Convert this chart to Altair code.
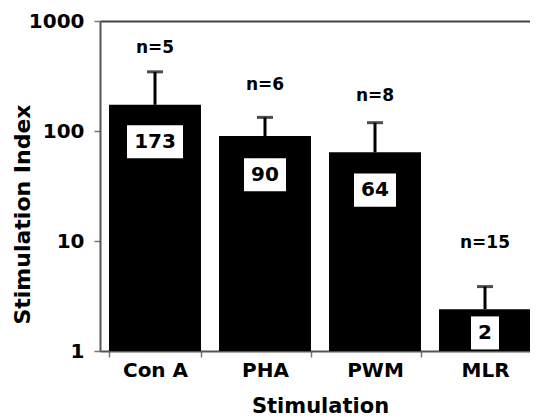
import altair as alt
import pandas as pd

categories = ["Con A", "PHA", "PWM", "MLR"]
means = [173, 90, 64, 2.4]
upper = [345, 133, 119, 3.85]
value_labels = ["173", "90", "64", "2"]
value_label_y = [80, 40, 29, 1.46]
n_labels = ["n=5", "n=6", "n=8", "n=15"]
n_label_y = [569, 262, 208, 9.6]

df = pd.DataFrame({
    "cat": categories,
    "mean": means,
    "upper": upper,
    "vlabel": value_labels,
    "vy": value_label_y,
    "nlabel": n_labels,
    "ny": n_label_y,
})

FONT = "DejaVu Sans"

xscale = alt.Scale(domain=categories, range=[0, 440], paddingInner=0.164, paddingOuter=0.082)
yscale = alt.Scale(type="log", domain=[1, 1000])

xbottom = alt.X("cat:N", scale=xscale, sort=categories, title="Stimulation",
                axis=alt.Axis(orient="bottom", labelAngle=0, tickBand="extent",
                              labelFontSize=20, labelFont=FONT, labelFontWeight="bold",
                              labelColor="black", labelPadding=3,
                              titleFontSize=21, titleFont=FONT, titleFontWeight="bold",
                              titleColor="black", titlePadding=15,
                              domainColor="#555", domainWidth=2,
                              tickColor="#777", tickWidth=1.5, tickSize=6))
xnone = alt.X("cat:N", scale=xscale, sort=categories, axis=None)
xtop = alt.X("cat:N", scale=xscale, sort=categories, title=None,
             axis=alt.Axis(orient="top", labels=False, ticks=False,
                           domainColor="#444", domainWidth=2))

yaxis = alt.Y("mean:Q", scale=yscale, title="Stimulation Index", stack=None,
              axis=alt.Axis(values=[1, 10, 100, 1000], format="d", grid=False,
                            labelFontSize=20, labelFont=FONT, labelFontWeight="bold",
                            labelColor="black", labelPadding=10,
                            titleFontSize=22, titleFont=FONT, titleFontWeight="bold",
                            titleColor="black", titleX=-78, titleY=193,
                            titleBaseline="middle",
                            domainColor="#555", domainWidth=2,
                            tickColor="#777", tickWidth=1.5, tickSize=6))

base = alt.Chart(df).transform_calculate(floor="1")

bars = base.mark_bar(color="black").encode(x=xbottom, y=yaxis, y2="floor:Q")

err = base.mark_rule(color="black", strokeWidth=3).encode(
    x=xnone, y=alt.Y("mean:Q", scale=yscale, axis=None), y2="upper:Q")
cap = base.mark_tick(color="black", thickness=3, size=16, orient="horizontal").encode(
    x=xtop, y=alt.Y("upper:Q", scale=yscale, axis=None))

box_base = base.transform_calculate(
    ytop="datum.vy * 1.413", ybot="datum.vy / 1.413",
    nd="length(datum.vlabel)")
boxes = []
for nd, w in [(3, 56), (2, 42), (1, 28)]:
    boxes.append(box_base.transform_filter(alt.datum.nd == nd).mark_bar(
        color="white", width=w).encode(
        x=xnone, y=alt.Y("ytop:Q", scale=yscale, axis=None, stack=None), y2="ybot:Q"))

vtext = base.mark_text(font=FONT, fontWeight="bold", fontSize=20, color="black",
                       baseline="middle").encode(
    x=xnone, y=alt.Y("vy:Q", scale=yscale, axis=None), text="vlabel:N")

ntext = base.mark_text(font=FONT, fontWeight="bold", fontSize=17, color="black",
                       baseline="middle").encode(
    x=xnone, y=alt.Y("ny:Q", scale=yscale, axis=None), text="nlabel:N")

chart = alt.layer(bars, err, cap, *boxes, vtext, ntext).resolve_axis(
    x="independent", y="independent"
).properties(
    width=430, height=330,
    autosize=alt.AutoSizeParams(type="none"),
    padding={"left": 92, "top": 13, "right": 0, "bottom": 66},
).configure_view(stroke=None)

chart.save("out.html", embed_options={"renderer": "svg", "actions": False})
